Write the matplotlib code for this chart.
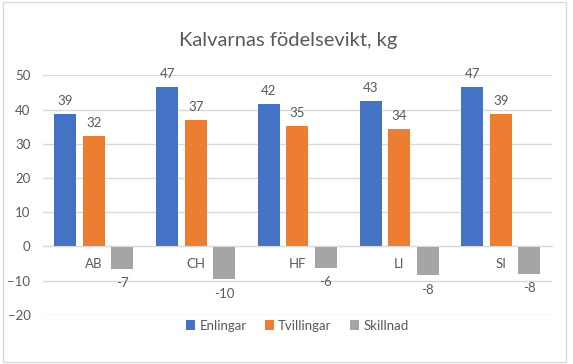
import matplotlib.pyplot as plt
import matplotlib.patches as mpatches
import numpy as np

plt.rcParams['font.family'] = ['Lato', 'DejaVu Sans']

# data
categories = ['AB', 'CH', 'HF', 'LI', 'SI']
enlingar = [38.7, 46.7, 41.6, 42.6, 46.6]
tvillingar = [32.3, 37.0, 35.2, 34.3, 38.6]
skillnad = [-6.6, -9.6, -6.3, -8.4, -8.1]
series_names = ['Enlingar', 'Tvillingar', 'Skillnad']
colors = ['#4472C4', '#ED7D31', '#A5A5A5']
text_col = '#595959'
grid_col = '#D9D9D9'

fig = plt.figure(figsize=(5.73, 3.64), dpi=100)
ax = fig.add_axes([0.075, 0.135, 0.888, 0.658])

x = np.arange(len(categories))
width = 0.216
offsets = [-0.28, 0.0, 0.28]

for vals, off, col, name in zip([enlingar, tvillingar, skillnad], offsets, colors, series_names):
    bars = ax.bar(x + off, vals, width, color=col, label=name, zorder=2)
    for b, v in zip(bars, vals):
        if v >= 0:
            ax.annotate(f'{round(v)}', (b.get_x() + b.get_width() / 2, v),
                        xytext=(0, 5), textcoords='offset points',
                        ha='center', va='bottom', fontsize=9.5, color=text_col)
        else:
            ax.annotate(f'{round(v)}', (b.get_x() + b.get_width() / 2, v),
                        xytext=(0, -6), textcoords='offset points',
                        ha='center', va='top', fontsize=9.5, color=text_col)

ax.set_xlim(-0.5, len(categories) - 0.5)
ax.set_ylim(-20, 50)
ax.set_yticks(np.arange(-20, 51, 10))
ax.set_xticks(x)
ax.set_xticklabels(categories)
ax.yaxis.grid(True, color=grid_col, linewidth=1, zorder=0)
ax.set_axisbelow(True)
for s in ['top', 'right', 'left']:
    ax.spines[s].set_visible(False)
ax.spines['bottom'].set_position(('data', 0))
ax.spines['bottom'].set_color(grid_col)
ax.tick_params(axis='both', length=0, labelsize=9.5, labelcolor=text_col)
ax.tick_params(axis='x', pad=8)
ax.tick_params(axis='y', pad=9)

fig.text(0.503, 0.89, 'Kalvarnas födelsevikt, kg', fontsize=14.5, color=text_col,
         ha='center', va='center')

leg = ax.legend(loc='center', bbox_to_anchor=(0.5, -0.045), ncol=3, frameon=False,
                fontsize=9.5, handlelength=0.7, handleheight=0.7, handletextpad=0.3,
                columnspacing=1.4)
for t in leg.get_texts():
    t.set_color(text_col)

# chart border like the original
fig.patches.append(mpatches.Rectangle((0.005, 0.005), 0.982, 0.99, transform=fig.transFigure,
                                      fill=False, edgecolor=grid_col, linewidth=1))

fig.savefig('out.png', dpi=100)
